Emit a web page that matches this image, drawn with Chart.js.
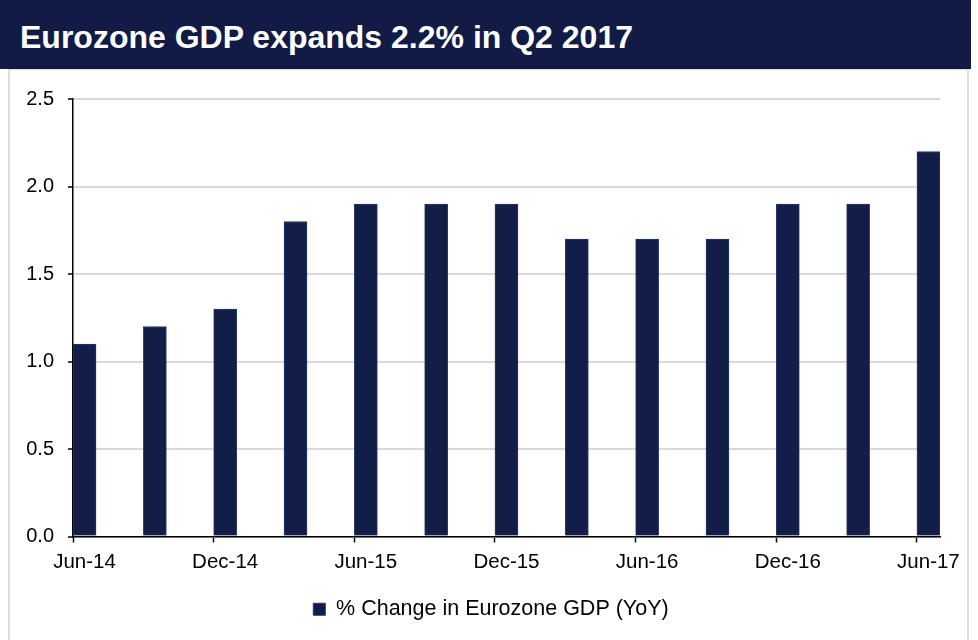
<!DOCTYPE html>
<html>
<head>
<meta charset="utf-8">
<script src="https://cdn.jsdelivr.net/npm/chart.js@4.4.1/dist/chart.umd.min.js"></script>
<style>
  html, body { margin: 0; padding: 0; background: #fff; width: 978px; height: 640px; overflow: hidden; }
  #frame { position: absolute; left: 8px; top: 69px; width: 961px; height: 590px; border: 2px solid #dcdcdc; border-top-width: 1px; box-sizing: border-box; }
  #wrap { position: absolute; left: 0; top: 0; width: 978px; height: 640px; }
  #title { position: absolute; left: 0; top: 0; width: 971px; height: 69px; background: #121b45; color: #fff;
           font-family: "Liberation Sans", Arial, sans-serif; font-weight: bold; font-size: 32px;
           line-height: 75px; padding-left: 20px; box-sizing: border-box; }
</style>
</head>
<body>
<div id="frame"></div>
<div id="wrap"><canvas id="gdpChart"></canvas></div>
<div id="title">Eurozone GDP expands 2.2% in Q2 2017</div>
<script>
// datos del gráfico
const PERIODS = ['Jun-14', 'Sep-14', 'Dec-14', 'Mar-15', 'Jun-15', 'Sep-15', 'Dec-15',
                 'Mar-16', 'Jun-16', 'Sep-16', 'Dec-16', 'Mar-17', 'Jun-17'];
const GDP_YOY = [1.1, 1.2, 1.3, 1.8, 1.9, 1.9, 1.9, 1.7, 1.7, 1.7, 1.9, 1.9, 2.2];
const X_TICK_LABELS = PERIODS.filter((p, i) => i % 2 === 0);
const Y_TICKS = [0, 0.5, 1.0, 1.5, 2.0, 2.5];
const SERIES_LABEL = '% Change in Eurozone GDP (YoY)';

const NAVY = '#121d48';
const FONT = '"Liberation Sans", Arial, sans-serif';
const EDGE = 0.164; // half a bar, in index units: bars touch both ends of the axis

// la leyenda se centra en el marco, no en el área del gráfico
const legendShift = {
  id: 'legendShift',
  afterLayout(chart) {
    chart.legend.left += 21;
    chart.legend.right += 21;
  }
};

const ctx = document.getElementById('gdpChart').getContext('2d');
new Chart(ctx, {
  type: 'bar',
  data: {
    datasets: [{
      label: SERIES_LABEL,
      data: GDP_YOY.map((v, i) => ({ x: i, y: v })),
      backgroundColor: NAVY,
      borderColor: '#24396f',
      borderWidth: 1,
      barThickness: 23
    }]
  },
  plugins: [legendShift],
  options: {
    responsive: true,
    maintainAspectRatio: false,
    animation: false,
    layout: { padding: { top: 99, right: 38, left: 0, bottom: 10 } },
    plugins: {
      legend: {
        position: 'bottom',
        labels: { boxWidth: 12, boxHeight: 12, color: '#000', font: { family: FONT, size: 21.5 } }
      },
      tooltip: { enabled: false }
    },
    scales: {
      x: {
        type: 'linear',
        offset: false,
        min: -EDGE,
        max: PERIODS.length - 1 + EDGE,
        afterBuildTicks: (scale) => {
          scale.ticks = X_TICK_LABELS.map((_, k) => ({ value: 2 * k - EDGE }));
        },
        afterFit: (scale) => { scale.height = 52; },
        ticks: {
          callback: (value, index) => X_TICK_LABELS[index],
          labelOffset: 11.5,
          autoSkip: false,
          maxRotation: 0,
          padding: 8,
          color: '#000',
          font: { family: FONT, size: 20.5 }
        },
        grid: { offset: false, drawOnChartArea: false, drawTicks: true, tickLength: 6, tickColor: '#000', tickWidth: 1.5 },
        border: { display: true, color: '#000', width: 1.5 }
      },
      y: {
        min: 0,
        max: 2.5,
        afterBuildTicks: (scale) => { scale.ticks = Y_TICKS.map(v => ({ value: v })); },
        afterFit: (scale) => { scale.width = 73; },
        ticks: {
          callback: (v) => v.toFixed(1),
          padding: 14,
          color: '#000',
          font: { family: FONT, size: 20 }
        },
        grid: { color: '#d9d9d9', lineWidth: 2, tickLength: 5, tickColor: '#000', tickWidth: 1.5 },
        border: { display: true, color: '#000', width: 1.5 }
      }
    }
  }
});
</script>
</body>
</html>
